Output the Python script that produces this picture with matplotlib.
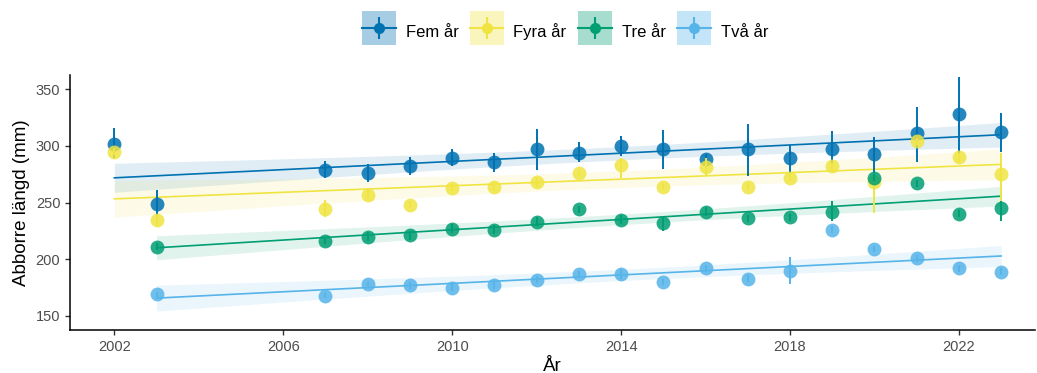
import matplotlib

matplotlib.use("Agg")

import matplotlib.pyplot as plt
import numpy as np
from matplotlib.lines import Line2D

plt.rcParams["font.family"] = ["Liberation Sans", "DejaVu Sans"]

years = [2002, 2003, 2007, 2008, 2009, 2010, 2011, 2012, 2013, 2014, 2015,
         2016, 2017, 2018, 2019, 2020, 2021, 2022, 2023]

# mean length per age class, with lower/upper bounds of the error bars
fem_mean = [302, 249, 279, 276, 282, 289, 286, 297, 294, 300, 297, 288, 297, 289, 297, 293, 311, 328, 312]
fem_lo = [289, 236, 272, 268, 274, 282, 277, 279, 286, 291, 280, 283, 273, 276, 280, 270, 286, 292, 295]
fem_hi = [316, 261, 287, 284, 290, 297, 294, 315, 303, 309, 314, 293, 319, 301, 313, 308, 334, 361, 329]

fyra_years = [2002, 2003, 2007, 2008, 2009, 2010, 2011, 2012, 2013, 2014, 2015,
              2016, 2017, 2018, 2019, 2020, 2021, 2022, 2023]
fyra_mean = [295, 235, 244, 257, 248, 263, 264, 268, 276, 283, 264, 281, 264, 272, 282, 268, 304, 290, 275]
fyra_lo = [292, 229, 237, 253, 245, 260, 260, 264, 273, 272, 261, 273, 261, 269, 279, 241, 301, 286, 247]
fyra_hi = [298, 239, 252, 261, 251, 266, 268, 272, 279, 289, 267, 289, 267, 275, 285, 276, 307, 294, 294]

tre_years = years[1:]
tre_mean = [211, 216, 220, 221, 227, 226, 233, 244, 235, 232, 242, 236, 237, 242, 272, 267, 240, 245]
tre_lo = [208, 213, 216, 217, 223, 222, 229, 241, 231, 225, 238, 233, 234, 234, 269, 264, 237, 234]
tre_hi = [214, 219, 224, 225, 231, 230, 237, 247, 239, 238, 246, 239, 240, 251, 275, 270, 243, 251]

tva_years = years[1:]
tva_mean = [169, 168, 178, 177, 175, 177, 182, 187, 187, 180, 192, 183, 190, 226, 209, 201, 192, 189]
tva_lo = [167, 166, 176, 174, 172, 174, 179, 184, 183, 177, 189, 180, 178, 223, 206, 198, 189, 186]
tva_hi = [171, 170, 180, 180, 178, 180, 185, 190, 191, 183, 195, 186, 202, 229, 212, 204, 195, 192]

labels = ["Fem år", "Fyra år", "Tre år", "Två år"]
colors = ["#0072B2", "#F0E442", "#009E73", "#56B4E9"]

series = [
    (years, fem_mean, fem_lo, fem_hi),
    (fyra_years, fyra_mean, fyra_lo, fyra_hi),
    (tre_years, tre_mean, tre_lo, tre_hi),
    (tva_years, tva_mean, tva_lo, tva_hi),
]


def lm_band(x, y, n=80):
    # ordinary least squares fit with a 95% confidence band
    x = np.asarray(x, float)
    y = np.asarray(y, float)
    b, a = np.polyfit(x, y, 1)
    resid = y - (a + b * x)
    dof = len(x) - 2
    s = np.sqrt(np.sum(resid ** 2) / dof)
    xs = np.linspace(x.min(), x.max(), n)
    se = s * np.sqrt(1 / len(x) + (xs - x.mean()) ** 2 / np.sum((x - x.mean()) ** 2))
    t = 2.11 if dof == 17 else 2.12
    fit = a + b * xs
    return xs, fit, fit - t * se, fit + t * se


fig = plt.figure(figsize=(10.37, 3.73), dpi=100)
ax = fig.add_axes([0.0675, 0.1153, 0.9305, 0.684])

for (x, m, lo, hi), c in zip(series, colors):
    xs, fit, band_lo, band_hi = lm_band(x, m)
    ax.fill_between(xs, band_lo, band_hi, color=c, alpha=0.12, lw=0, zorder=1)

for (x, m, lo, hi), c in zip(series, colors):
    xs, fit, band_lo, band_hi = lm_band(x, m)
    ax.plot(xs, fit, color=c, lw=1.2, zorder=2)

# later groups are drawn first so the older age classes sit on top
for i in reversed(range(len(series))):
    x, m, lo, hi = series[i]
    c = colors[i]
    m = np.asarray(m, float)
    yerr = [m - np.asarray(lo), np.asarray(hi) - m]
    ax.errorbar(x, m, yerr=yerr, fmt="none", ecolor=c, elinewidth=1.4, capsize=0, zorder=3 + i * 0.1)
    ax.plot(x, m, "o", color=c, ms=10, alpha=0.85, mec="none", zorder=3 + i * 0.1)

ax.set_xlim(2000.95, 2023.8)
ax.set_ylim(137.6, 362.6)
ax.set_xticks([2002, 2006, 2010, 2014, 2018, 2022])
ax.set_yticks([150, 200, 250, 300, 350])
ax.tick_params(axis="both", labelsize=10.5, labelcolor="#4D4D4D", color="#333333", length=3.5, width=1)
for side in ["top", "right"]:
    ax.spines[side].set_visible(False)
for side in ["left", "bottom"]:
    ax.spines[side].set_linewidth(1.1)
ax.set_xlabel("År", fontsize=13.5, labelpad=3)
ax.set_ylabel("Abborre längd (mm)", fontsize=13.5, labelpad=4)

# legend keys: shaded square for the band, with line, error bar and point on top
handles = []
for c in colors:
    handles.append((
        Line2D([], [], color=c, marker="s", markersize=24, alpha=0.35, mew=0, lw=0),
        Line2D([], [], color=c, lw=1.5),
        Line2D([], [], color=c, marker="|", markersize=16, mew=1.5, lw=0),
        Line2D([], [], color=c, marker="o", markersize=7, lw=0),
    ))
fig.legend(handles, labels, loc="center", bbox_to_anchor=(0.545, 0.914), ncol=4, frameon=False,
           fontsize=12, handlelength=2.0, handleheight=2.0, handletextpad=0.6, columnspacing=0.7)

fig.savefig("out.png", dpi=100)
